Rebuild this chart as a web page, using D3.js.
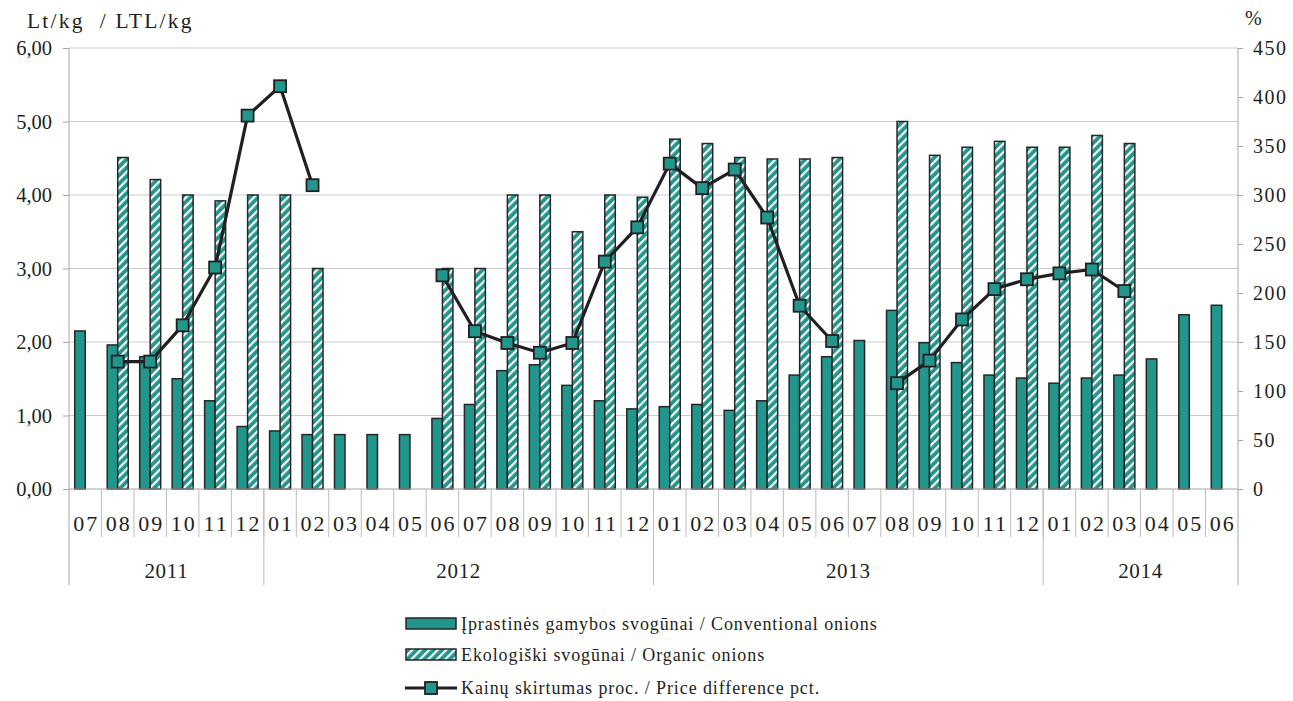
<!DOCTYPE html>
<html><head><meta charset="utf-8">
<script src="https://cdn.jsdelivr.net/npm/d3@7"></script>
<style>
html,body{margin:0;padding:0;background:#fff;}
text{font-family:"Liberation Serif","Times New Roman",serif;fill:#231f20;}
</style></head>
<body>
<svg id="chart" width="1293" height="701"></svg>
<script>
const months = ["07","08","09","10","11","12","01","02","03","04","05","06","07","08","09","10","11","12","01","02","03","04","05","06","07","08","09","10","11","12","01","02","03","04","05","06"];
const yearLabels = ["2011","2012","2013","2014"];
const yearCounts = [6,12,12,6];
const conventional = [2.15,1.96,1.80,1.50,1.20,0.85, 0.79,0.74,0.74,0.74,0.74,0.96,1.15,1.61,1.69,1.41,1.20,1.09, 1.12,1.15,1.07,1.20,1.55,1.80,2.02,2.43,1.99,1.72,1.55,1.51, 1.44,1.51,1.55,1.77,2.37,2.50];
const organic = [null,4.51,4.21,4.00,3.92,4.00, 4.00,3.00,null,null,null,3.00,3.00,4.00,4.00,3.50,4.00,3.97, 4.76,4.70,4.51,4.49,4.49,4.51,null,5.00,4.54,4.65,4.73,4.65, 4.65,4.81,4.70,null,null,null];
const priceDiff = [null,130,130,167,226,381, 411,310,null,null,null,218,161,149,139,149,232,267, 332,307,326,277,187,151,null,108,131,173,204,214, 220,224,202,null,null,null];
const leftTicks = [0,1,2,3,4,5,6];
const rightTicks = [0,50,100,150,200,250,300,350,400,450];
const seriesNames = ["Įprastinės gamybos svogūnai / Conventional onions","Ekologiški svogūnai / Organic onions","Kainų skirtumas proc. / Price difference pct."];
const leftTitle = "Lt/kg  / LTL/kg";
const rightTitle = "%";

const TEAL = "#21968c", DARK = "#262626";
const L = 69, R = 1238, T = 48, B = 489;
const svg = d3.select("#chart");

const defs = svg.append("defs");
const pat = defs.append("pattern").attr("id","hatch").attr("patternUnits","userSpaceOnUse")
  .attr("width",6).attr("height",6).attr("patternTransform","rotate(45)");
pat.append("rect").attr("width",6).attr("height",6).attr("fill",TEAL);
pat.append("rect").attr("x",0).attr("width",2.2).attr("height",6).attr("fill","#fff");

const idx = months.map((m,i)=>i);
const x = d3.scaleBand().domain(idx).range([L,R]).padding(0);
const y = d3.scaleLinear().domain([0,6]).range([B,T]);
const y2 = d3.scaleLinear().domain([0,450]).range([B,T]);
const bw = 10.5;

// gridlines
svg.append("g").selectAll("line").data(leftTicks.slice(1)).join("line")
  .attr("x1",L).attr("x2",R).attr("y1",d=>y(d)).attr("y2",d=>y(d))
  .attr("stroke","#cbcbcb").attr("stroke-width",1);

// bars
const cx = i => x(i) + x.bandwidth()/2;
svg.append("g").selectAll("rect").data(idx).join("rect")
  .attr("x",i=>cx(i)-bw).attr("width",bw)
  .attr("y",i=>y(conventional[i])).attr("height",i=>B-y(conventional[i]))
  .attr("fill",TEAL).attr("stroke",DARK).attr("stroke-width",1.5);
svg.append("g").selectAll("rect").data(idx.filter(i=>organic[i]!=null)).join("rect")
  .attr("x",i=>cx(i)).attr("width",bw)
  .attr("y",i=>y(organic[i])).attr("height",i=>B-y(organic[i]))
  .attr("fill","url(#hatch)").attr("stroke",DARK).attr("stroke-width",1.5);

// left axis
const axL = svg.append("g").attr("transform",`translate(${L},0)`)
  .call(d3.axisLeft(y).tickValues(leftTicks).tickSize(6).tickPadding(11)
    .tickFormat(d=>d3.format(".2f")(d).replace(".",",")));
axL.select(".domain").remove();
axL.selectAll("line").attr("stroke","#a6a6a6");
axL.selectAll("text").style("font-size","20.5px").style("font-family","Liberation Serif").attr("fill","#231f20");
// right axis
const axR = svg.append("g").attr("transform",`translate(${R},0)`)
  .call(d3.axisRight(y2).tickValues(rightTicks).tickSize(5).tickPadding(10));
axR.select(".domain").remove();
axR.selectAll("line").attr("stroke","#a6a6a6");
axR.selectAll("text").style("font-size","20px").style("letter-spacing","1.5px").style("font-family","Liberation Serif").attr("fill","#231f20");

// axis lines
svg.append("line").attr("x1",L).attr("x2",L).attr("y1",T).attr("y2",585).attr("stroke","#a6a6a6");
svg.append("line").attr("x1",R).attr("x2",R).attr("y1",T).attr("y2",585).attr("stroke","#a6a6a6");
svg.append("line").attr("x1",L).attr("x2",R).attr("y1",B).attr("y2",B).attr("stroke","#a6a6a6");

// month separators and labels
const gm = svg.append("g");
gm.selectAll("line").data(idx.slice(1)).join("line")
  .attr("x1",i=>x(i)).attr("x2",i=>x(i)).attr("y1",B).attr("y2",537).attr("stroke","#bdbdbd");
gm.selectAll("text").data(idx).join("text")
  .attr("x",i=>cx(i)+1).attr("y",531).attr("text-anchor","middle")
  .style("font-size","22px").style("letter-spacing","2px")
  .text(i=>months[i]);
// year separators and labels
let acc = 0;
const yearInfo = yearLabels.map((lab,k)=>{const s=acc; acc+=yearCounts[k]; return {lab, s, e:acc};});
svg.append("g").selectAll("line").data(yearInfo.slice(1)).join("line")
  .attr("x1",d=>x(d.s)).attr("x2",d=>x(d.s)).attr("y1",B).attr("y2",585).attr("stroke","#bdbdbd");
svg.append("g").selectAll("text").data(yearInfo).join("text")
  .attr("x",d=>(x(d.s)+ (d.e<months.length? x(d.e):R))/2).attr("y",578)
  .attr("text-anchor","middle").style("font-size","21px").style("letter-spacing","0.7px").text(d=>d.lab);

// line
const line = d3.line().defined(i=>priceDiff[i]!=null).x(i=>cx(i)).y(i=>y2(priceDiff[i]));
svg.append("path").datum(idx).attr("d",line).attr("fill","none")
  .attr("stroke","#231f20").attr("stroke-width",3.2).attr("stroke-linejoin","round");
const ms = 12;
svg.append("g").selectAll("rect").data(idx.filter(i=>priceDiff[i]!=null)).join("rect")
  .attr("x",i=>cx(i)-ms/2).attr("y",i=>y2(priceDiff[i])-ms/2).attr("width",ms).attr("height",ms)
  .attr("fill",TEAL).attr("stroke","#231f20").attr("stroke-width",1.8);

// titles
svg.append("text").attr("x",27).attr("y",28).style("font-size","21.5px").style("letter-spacing","2.2px").style("white-space","pre").text(leftTitle);
svg.append("text").attr("x",1245).attr("y",25).style("font-size","20px").text(rightTitle);

// legend
const lg = svg.append("g");
const ly = [624,655,688];
lg.append("rect").attr("x",406).attr("y",ly[0]-6).attr("width",50).attr("height",11)
  .attr("fill",TEAL).attr("stroke",DARK).attr("stroke-width",1.5);
lg.append("rect").attr("x",406).attr("y",ly[1]-6).attr("width",50).attr("height",11)
  .attr("fill","url(#hatch)").attr("stroke",DARK).attr("stroke-width",1.5);
lg.append("line").attr("x1",405).attr("x2",457).attr("y1",ly[2]).attr("y2",ly[2])
  .attr("stroke","#231f20").attr("stroke-width",3.2);
lg.append("rect").attr("x",431-ms/2).attr("y",ly[2]-ms/2).attr("width",ms).attr("height",ms)
  .attr("fill",TEAL).attr("stroke","#231f20").attr("stroke-width",1.8);
lg.selectAll("text").data(seriesNames).join("text")
  .attr("x",461).attr("y",(d,k)=>ly[k]+6).style("font-size","18px").style("letter-spacing","0.9px").text(d=>d);
</script>
</body></html>
